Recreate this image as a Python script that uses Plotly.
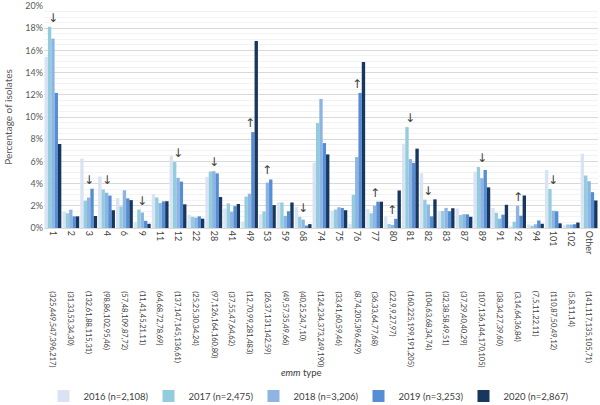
import plotly.graph_objects as go

emm_types = ["1", "2", "3", "4", "6", "9", "11", "12", "22", "28", "41", "49", "53", "59", "68",
             "74", "75", "76", "77", "80", "81", "82", "83", "87", "89", "91", "92", "94", "101",
             "102", "Other"]

count_labels = ["(325,449,547,396,217)", "(31,33,53,34,30)", "(132,61,88,115,31)",
                "(98,86,102,95,46)", "(57,48,109,87,72)", "(11,41,45,21,11)",
                "(64,68,72,78,69)", "(137,147,145,136,61)", "(25,25,30,34,24)",
                "(97,126,164,160,80)", "(37,55,47,64,62)", "(12,70,99,281,483)",
                "(26,37,131,142,59)", "(49,57,35,49,66)", "(40,25,24,7,10)",
                "(124,234,373,249,190)", "(33,41,60,59,46)", "(8,74,205,396,429)",
                "(36,33,64,77,68)", "(22,9,9,27,97)", "(160,225,199,191,205)",
                "(104,63,68,34,74)", "(32,38,58,49,51)", "(37,29,40,40,29)",
                "(107,136,144,170,105)", "(38,34,27,39,60)", "(3,14,64,36,84)",
                "(7,5,11,22,11)", "(110,87,50,49,12)", "(5,8,11,14)", "(141,117,135,105,71)"]

pct_2016 = [15.42, 1.47, 6.26, 4.65, 2.70, 0.52, 3.04, 6.50, 1.19, 4.60, 1.76, 0.57, 1.23, 2.32, 1.90,
            5.88, 1.57, 0.38, 1.71, 1.04, 7.59, 4.93, 1.52, 1.76, 5.08, 1.80, 0.14, 0.33, 5.22, 0.24, 6.69]
pct_2017 = [18.14, 1.33, 2.46, 3.47, 1.94, 1.66, 2.75, 5.94, 1.01, 5.09, 2.22, 2.83, 1.49, 2.30, 1.01,
            9.45, 1.66, 2.99, 1.33, 0.36, 9.09, 2.55, 1.54, 1.17, 5.49, 1.37, 0.57, 0.20, 3.52, 0.32, 4.73]
pct_2018 = [17.06, 1.65, 2.74, 3.18, 3.40, 1.40, 2.25, 4.52, 0.94, 5.12, 1.47, 3.09, 4.09, 1.09, 0.75,
            11.63, 1.87, 6.39, 2.00, 0.28, 6.21, 2.12, 1.81, 1.25, 4.49, 0.84, 2.00, 0.34, 1.56, 0.31, 4.21]
pct_2019 = [12.17, 1.05, 3.54, 2.92, 2.67, 0.65, 2.40, 4.18, 1.05, 4.92, 1.97, 8.64, 4.37, 1.51, 0.22,
            7.65, 1.81, 12.17, 2.37, 0.83, 5.87, 1.05, 1.51, 1.23, 5.23, 1.20, 1.11, 0.68, 1.51, 0.34, 3.23]
pct_2020 = [7.57, 1.05, 1.08, 1.60, 2.51, 0.38, 2.41, 2.13, 0.84, 2.79, 2.16, 16.85, 2.06, 2.30, 0.35,
            6.63, 1.60, 14.96, 2.37, 3.38, 7.15, 2.58, 1.78, 1.01, 3.66, 2.09, 2.93, 0.38, 0.42, 0.49, 2.48]

trend = ["↓", "", "↓", "↓", "", "↓", "", "↓", "", "↓", "", "↑", "↑", "", "↓",
         "", "", "↑", "↑", "↑", "↓", "↓", "", "", "↓", "", "↑", "", "↓", "", ""]

series_names = ["2016 (n=2,108)", "2017 (n=2,475)", "2018 (n=3,206)", "2019 (n=3,253)", "2020 (n=2,867)"]
series_values = [pct_2016, pct_2017, pct_2018, pct_2019, pct_2020]
series_colors = ["#dae3f3", "#92cddd", "#8eb4e3", "#558ed5", "#17375e"]

FONT = "Lato, 'Noto Sans', sans-serif"

fig = go.Figure()
for name, vals, col in zip(series_names, series_values, series_colors):
    fig.add_trace(go.Bar(x=emm_types, y=vals, name=name, marker=dict(color=col, line=dict(width=0))))

annotations = []
# count labels below the category labels (x given as category index on the category axis)
for idx, lab in enumerate(count_labels):
    annotations.append(dict(x=idx, xref="x", y=-0.276, yref="paper", text=lab, textangle=90,
                            xanchor="center", yanchor="top", showarrow=False,
                            font=dict(family=FONT, size=7.5, color="#404040")))
# trend arrows
for idx, arr in enumerate(trend):
    if arr:
        level = max(pct_2017[idx], pct_2018[idx], pct_2019[idx])
        annotations.append(dict(x=idx, xref="x", y=level, yref="y", text=arr, showarrow=False,
                                xanchor="center", yanchor="bottom",
                                font=dict(family="DejaVu Sans", size=12, color="#404040")))
annotations.append(dict(x=0.464, xref="paper", y=-0.65, yref="paper", text="<i>emm</i> type",
                        showarrow=False, xanchor="center", yanchor="middle",
                        font=dict(family=FONT, size=9.5, color="#404040")))

fig.update_layout(
    width=600, height=405,
    margin=dict(l=44, r=2, t=6, b=177),
    barmode="group", bargap=0.06, bargroupgap=0,
    plot_bgcolor="white", paper_bgcolor="white",
    font=dict(family=FONT, size=9, color="#595959"),
    legend=dict(orientation="h", xref="container", x=0.51, xanchor="center",
                yref="container", y=0.022, yanchor="middle",
                font=dict(family=FONT, size=9.5, color="#404040"),
                entrywidth=60, entrywidthmode="pixels", itemwidth=30),
    annotations=annotations,
    xaxis=dict(type="category", range=[-0.5, len(emm_types) - 0.5], autorange=False,
               automargin=False,
               tickmode="linear", dtick=1, tickangle=90, showline=True, linecolor="#d9d9d9",
               linewidth=1, ticks="", showgrid=False,
               tickfont=dict(family=FONT, size=9, color="#404040")),
    yaxis=dict(range=[0, 20], dtick=2, ticksuffix="%", showgrid=True, gridcolor="#d9d9d9",
               gridwidth=1, zeroline=False, ticks="", automargin=False,
               minor=dict(dtick=0.5, showgrid=True, gridcolor="#f3f3f3", gridwidth=1),
               tickfont=dict(family=FONT, size=9, color="#595959"),
               title=dict(text="Percentage of isolates", standoff=10,
                          font=dict(family=FONT, size=10, color="#595959"))),
)

fig.write_html("out.html", config={"displayModeBar": False},
               post_script="document.body.style.margin='0';")
